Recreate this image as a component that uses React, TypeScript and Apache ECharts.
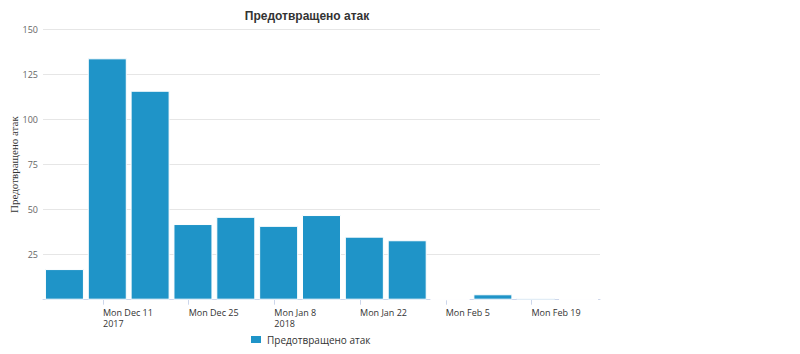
import React, { useEffect, useRef } from "react";
import * as echarts from "echarts";

const seriesName = "Предотвращено атак";
const weekValues = [17, 134, 116, 42, 46, 41, 47, 35, 33, 0, 3, 1, 0];
const tickLabels = ["Mon Dec 11\n2017", "Mon Dec 25", "Mon Jan 8\n2018", "Mon Jan 22", "Mon Feb 5", "Mon Feb 19"];
const tickWeekIndex = [1.4, 3.4, 5.4, 7.4, 9.4, 11.4];
const yTicks = [0, 25, 50, 75, 100, 125, 150];

export default function App() {
  const ref = useRef<HTMLDivElement>(null);
  useEffect(() => {
    if (!ref.current) return;
    const chart = echarts.init(ref.current, null, { renderer: "svg" });
    const labelFor = (v: number) => {
      let best = -1;
      let d = 1e9;
      tickWeekIndex.forEach((t, i) => {
        const dd = Math.abs(t - v);
        if (dd < d) { d = dd; best = i; }
      });
      return d < 0.05 ? tickLabels[best] : "";
    };
    chart.setOption({
      animation: false,
      backgroundColor: "#ffffff",
      title: {
        text: seriesName,
        left: 302,
        top: 5,
        textAlign: "center",
        textStyle: { fontFamily: "Liberation Sans", fontSize: 12, fontWeight: "bold", color: "#333333" },
      },
      legend: {
        left: 249,
        top: 334,
        padding: 0,
        itemWidth: 12,
        itemHeight: 9,
        itemGap: 10,
        icon: "rect",
        data: [seriesName],
        textStyle: { fontFamily: "Open Sans", fontSize: 10, color: "#333333" },
      },
      grid: { left: 43, right: 200, top: 29.5, bottom: 54.3, containLabel: false, outerBoundsMode: "none" },
      xAxis: {
        type: "value",
        min: 0,
        max: weekValues.length,
        axisLine: { show: true, lineStyle: { color: "#ccd6eb", width: 1 } },
        axisTick: { show: true, customValues: tickWeekIndex, length: 5, lineStyle: { color: "#ccd6eb" } },
        axisLabel: {
          customValues: tickWeekIndex,
          formatter: (v: number) => labelFor(v),
          align: "left",
          margin: 7,
          fontFamily: "Open Sans",
          fontSize: 9,
          lineHeight: 11.5,
          color: "#333333",
        },
        splitLine: { show: false },
      },
      yAxis: {
        type: "value",
        min: yTicks[0],
        max: yTicks[yTicks.length - 1],
        interval: 25,
        name: seriesName,
        nameLocation: "middle",
        nameGap: 24,
        nameMoveOverlap: false,
        nameTextStyle: { fontFamily: "Liberation Serif", fontSize: 11, color: "#333333" },
        axisLine: { show: false },
        axisTick: { show: false },
        axisLabel: {
          formatter: (v: number) => (v === 0 ? "" : String(v)),
          fontFamily: "Open Sans",
          fontSize: 9,
          color: "#666666",
          margin: 5,
        },
        splitLine: { show: true, lineStyle: { color: "#e6e6e6", width: 1 } },
      },
      series: [
        {
          name: seriesName,
          type: "bar",
          barWidth: 39,
          data: weekValues.map((v, i) => [i + 0.5, v]),
          itemStyle: { color: "#1f94c8", borderColor: "#ffffff", borderWidth: 1 },
        },
      ],
    });
    return () => chart.dispose();
  }, []);
  return <div ref={ref} style={{ position: "fixed", left: 0, top: 0, width: 800, height: 354 }} />;
}
